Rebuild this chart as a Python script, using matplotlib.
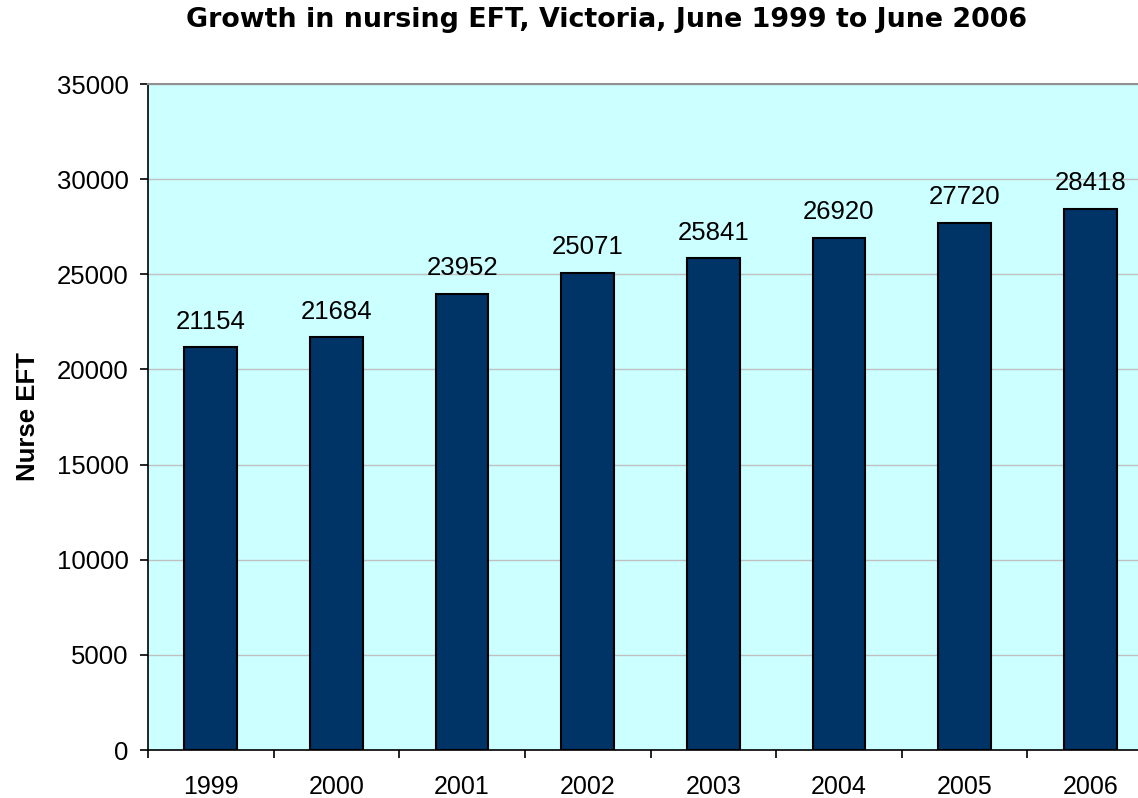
import matplotlib.pyplot as plt
from matplotlib import rcParams

years = ['1999', '2000', '2001', '2002', '2003', '2004', '2005', '2006']
nurse_eft = [21154, 21684, 23952, 25071, 25841, 26920, 27720, 28418]
y_ticks = [0, 5000, 10000, 15000, 20000, 25000, 30000, 35000]

rcParams['font.family'] = ['Liberation Sans', 'DejaVu Sans']
rcParams['font.size'] = 18.5

fig = plt.figure(figsize=(11.38, 7.98), dpi=100)
# plot area runs a bit past the right edge of the picture
ax = fig.add_axes([148 / 1138, 48 / 798, 1005 / 1138, 666 / 798])
ax.set_facecolor('#ccffff')

x = list(range(len(years)))
ax.bar(x, nurse_eft, width=0.42, color='#003366', edgecolor='black',
       linewidth=1.5, zorder=3)

for xi, val in zip(x, nurse_eft):
    ax.annotate(str(val), (xi, val), xytext=(0, 13.5), textcoords='offset points',
                ha='center', va='baseline', fontsize=18.5)

ax.set_xlim(-0.5, len(years) - 0.5)
ax.set_ylim(0, 35000)
ax.set_yticks(y_ticks)
ax.set_xticks([i - 0.5 for i in range(len(years) + 1)], minor=False)
ax.set_xticklabels([])
ax.set_xticks(x, minor=True)
ax.set_xticklabels(years, minor=True, fontsize=18)
ax.tick_params(axis='x', which='minor', length=0, pad=18)
ax.tick_params(axis='x', which='major', length=6, width=1.2, direction='out')
ax.tick_params(axis='y', length=6, width=1.2, direction='out', pad=8)

ax.grid(True, axis='y', color='#c0c0c0', linewidth=1, zorder=0)
ax.set_axisbelow(True)

ax.spines['top'].set_color('#909090')
ax.spines['top'].set_linewidth(1.5)
ax.spines['right'].set_color('#909090')
ax.spines['left'].set_linewidth(1.2)
ax.spines['bottom'].set_linewidth(1.2)

ax.set_ylabel('Nurse EFT', fontweight='bold', fontsize=18.5, labelpad=12)

fig.text(607 / 1138, 1 - 20 / 798, 'Growth in nursing EFT, Victoria, June 1999 to June 2006',
         ha='center', va='center', fontsize=19.4, fontweight='bold',
         family=['DejaVu Sans'])

fig.savefig('out.png', dpi=100)
